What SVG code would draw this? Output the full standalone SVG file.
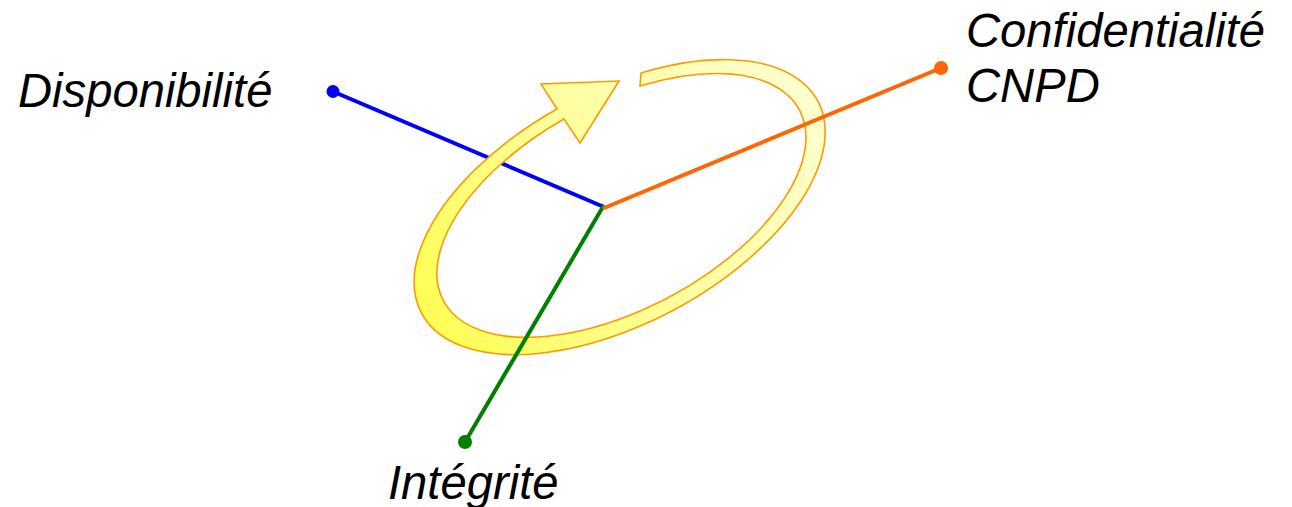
<svg xmlns="http://www.w3.org/2000/svg" width="1292" height="507" viewBox="0 0 1292 507">
<defs>
<linearGradient id="bandGrad" gradientUnits="userSpaceOnUse" x1="430" y1="330" x2="820" y2="80">
<stop offset="0" stop-color="#ffff55"/>
<stop offset="0.5" stop-color="#ffffa0"/>
<stop offset="1" stop-color="#ffffd2"/>
</linearGradient>
<style>
.lbl{font-family:"Liberation Sans",Arial,sans-serif;font-style:italic;font-size:47.2px;fill:#000}
.axis{stroke-width:4;fill:none;stroke-linecap:butt}
</style>
</defs>
<rect width="1292" height="507" fill="#ffffff"/>
<g id="connectors">
<g id="axis-disponibilite">
<line class="axis" x1="333" y1="91.5" x2="604" y2="207" stroke="#0000ff"/>
<circle cx="333" cy="91.5" r="6.5" fill="#0000ff"/>
</g>
<g id="cycle-arrow">
<path d="M 641,73 A 224.7 116.2 -28.2 1 1 557,109 L 541,84 L 619,81 L 580,143 L 564,119 A 201.9 103.4 -28.2 1 0 640,86 Z" fill="url(#bandGrad)" stroke="#ff9900" stroke-width="1.6" stroke-linejoin="miter"/>
</g>
<g id="axis-integrite">
<line class="axis" x1="604" y1="205" x2="465" y2="442" stroke="#008000"/>
<circle cx="465" cy="442" r="7" fill="#008000"/>
</g>
<g id="axis-confidentialite">
<line class="axis" x1="603" y1="208.5" x2="941" y2="68" stroke="#ff6600"/>
<circle cx="941" cy="68" r="7" fill="#ff6600"/>
</g>
</g>
<g id="node-disponibilite">
<text class="lbl" x="18" y="107">Disponibilité</text>
</g>
<g id="node-confidentialite">
<text class="lbl" x="966" y="47">Confidentialité</text>
<text class="lbl" x="966" y="102">CNPD</text>
</g>
<g id="node-integrite">
<text class="lbl" x="388" y="499">Intégrité</text>
</g>
</svg>
